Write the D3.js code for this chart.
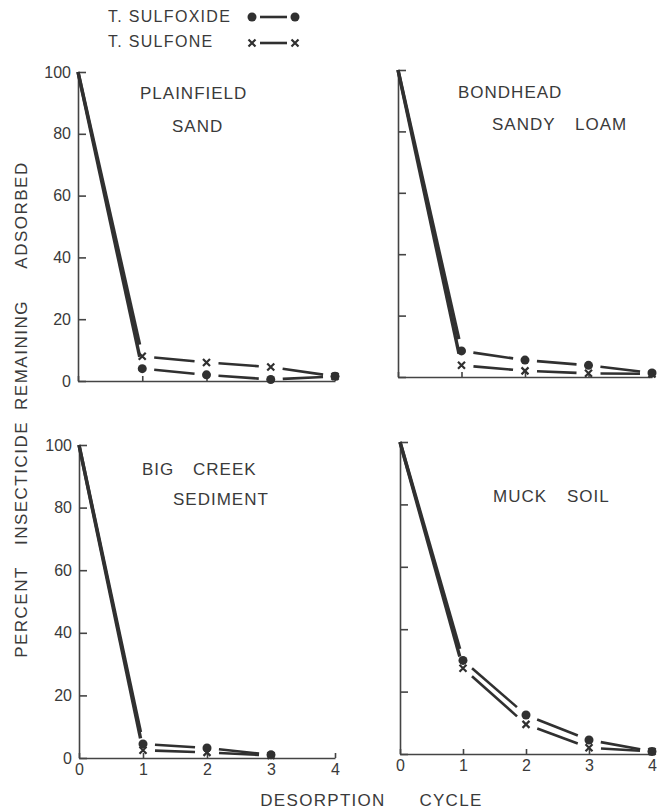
<!DOCTYPE html>
<html>
<head>
<meta charset="utf-8">
<script src="https://cdn.jsdelivr.net/npm/d3@7"></script>
<style>
  body { margin: 0; background: #fff; }
  svg text { font-family: "Liberation Sans", Arial, sans-serif; fill: #3a3a3a; }
</style>
</head>
<body>
<div id="chart"></div>
<script>
// desorption cycles (x values)
const cycles = [0, 1, 2, 3, 4];
const yTicks = [0, 20, 40, 60, 80, 100];

// percent insecticide remaining adsorbed
const plainfieldSulfoxide = [100, 4, 2, 0.5, 1.5];
const plainfieldSulfone   = [100, 8, 6, 4.5, 1.5];
const bondheadSulfoxide   = [100, 8.5, 5.5, 3.8, 1.3];
const bondheadSulfone     = [100, 3.8, 2, 1.2, 1];
const bigCreekSulfoxide   = [100, 4.5, 3.2, 1];
const bigCreekSulfone     = [100, 2.5, 1.8, 0.8];
const muckSulfoxide       = [100, 30, 12.5, 4.5, 0.8];
const muckSulfone         = [100, 27.5, 9.5, 2, 0.8];

const width = 657, height = 812;
const ink = "#303030";

const svg = d3.select("#chart").append("svg")
  .attr("width", width)
  .attr("height", height);

const panels = [
  { x0: 78,  x1: 335, yTop: 72,  yBot: 381, tickLabelsY: true,  tickLabelsX: false,
    sulfoxide: plainfieldSulfoxide, sulfone: plainfieldSulfone,
    title: [["PLAINFIELD", 140, 99], ["SAND", 172, 132]] },
  { x0: 398, x1: 652, yTop: 70,  yBot: 377, tickLabelsY: false, tickLabelsX: false,
    sulfoxide: bondheadSulfoxide, sulfone: bondheadSulfone,
    title: [["BONDHEAD", 458, 98], ["SANDY", 492, 130], ["LOAM", 575, 130]] },
  { x0: 79,  x1: 335, yTop: 445, yBot: 758, tickLabelsY: true,  tickLabelsX: true,
    sulfoxide: bigCreekSulfoxide, sulfone: bigCreekSulfone,
    title: [["BIG", 142, 475], ["CREEK", 193, 475], ["SEDIMENT", 173, 505]] },
  { x0: 400, x1: 652, yTop: 442, yBot: 754, tickLabelsY: false, tickLabelsX: true,
    sulfoxide: muckSulfoxide, sulfone: muckSulfone,
    title: [["MUCK", 493, 502], ["SOIL", 567, 502]] }
];

// draws a segmented line with breaks around each marker
function drawSeries(g, x, y, values) {
  const pts = values.map((v, i) => [x(cycles[i]), y(v)]);
  const line = d3.line();
  for (let i = 0; i < pts.length - 1; i++) {
    const [ax, ay] = pts[i], [bx, by] = pts[i + 1];
    const len = Math.hypot(bx - ax, by - ay);
    const ux = (bx - ax) / len, uy = (by - ay) / len;
    const g0 = i === 0 ? 0 : 12, g1 = 12;
    if (len <= g0 + g1) continue;
    g.append("path")
      .attr("d", line([[ax + ux * g0, ay + uy * g0], [bx - ux * g1, by - uy * g1]]))
      .attr("fill", "none")
      .attr("stroke", ink)
      .attr("stroke-width", i === 0 ? 3.4 : 2.6);
  }
  return pts;
}

function dot(g, cx, cy) {
  g.append("circle").attr("cx", cx).attr("cy", cy).attr("r", 4.5).attr("fill", ink);
}
function cross(g, cx, cy) {
  const s = 3.5;
  g.append("path")
    .attr("d", `M${cx - s},${cy - s}L${cx + s},${cy + s}M${cx - s},${cy + s}L${cx + s},${cy - s}`)
    .attr("stroke", ink).attr("stroke-width", 2.2).attr("fill", "none");
}

panels.forEach(p => {
  const x = d3.scaleLinear().domain([0, 4]).range([p.x0, p.x1]);
  const y = d3.scaleLinear().domain([0, 100]).range([p.yBot, p.yTop]);
  const g = svg.append("g");

  const yAxis = d3.axisLeft(y).tickValues(yTicks)
    .tickSizeInner(-8).tickSizeOuter(0).tickPadding(7);
  if (!p.tickLabelsY) yAxis.tickFormat("");
  const ya = g.append("g").attr("transform", `translate(${p.x0},0)`).call(yAxis);

  const xAxis = d3.axisBottom(x).tickValues(cycles)
    .tickSizeInner(-5).tickSizeOuter(0).tickPadding(6)
    .tickFormat(p.tickLabelsX ? d3.format("d") : "");
  const xa = g.append("g").attr("transform", `translate(0,${p.yBot})`).call(xAxis);

  [ya, xa].forEach(a => {
    a.selectAll("path.domain").attr("stroke", "#444").attr("stroke-width", 1.6);
    a.selectAll(".tick line").attr("stroke", "#444").attr("stroke-width", 1.6);
    a.selectAll(".tick text").attr("font-size", 16)
      .attr("font-family", "Liberation Sans, Arial, sans-serif").attr("fill", "#444");
  });

  p.title.forEach(([t, tx, ty]) => {
    g.append("text").attr("x", tx).attr("y", ty)
      .attr("font-size", 17).attr("letter-spacing", 1).text(t);
  });

  const pa = drawSeries(g, x, y, p.sulfoxide);
  const pb = drawSeries(g, x, y, p.sulfone);
  pa.slice(1).forEach(([cx, cy]) => dot(g, cx, cy));
  pb.slice(1).forEach(([cx, cy]) => cross(g, cx, cy));
});

// legend
const legendRows = [["T. SULFOXIDE", 22, 17, dot], ["T. SULFONE", 47, 43, cross]];
legendRows.forEach(([label, ty, my, mark]) => {
  svg.append("text").attr("x", 108).attr("y", ty)
    .attr("font-size", 16).attr("letter-spacing", 1.3).text(label);
  svg.append("line").attr("x1", 260).attr("x2", 287).attr("y1", my).attr("y2", my)
    .attr("stroke", ink).attr("stroke-width", 2.6);
  mark(svg, 252, my);
  mark(svg, 295, my);
});

// y axis title, one word at a time as in the original lettering
const yWords = [["PERCENT", 612], ["INSECTICIDE", 483], ["REMAINING", 355], ["ADSORBED", 215]];
yWords.forEach(([w, cy]) => {
  svg.append("text")
    .attr("transform", `translate(27,${cy}) rotate(-90)`)
    .attr("text-anchor", "middle")
    .attr("font-size", 17).attr("letter-spacing", 1.5).text(w);
});

// x axis title
const xWords = [["DESORPTION", 323], ["CYCLE", 451]];
xWords.forEach(([w, cx]) => {
  svg.append("text").attr("x", cx).attr("y", 806)
    .attr("text-anchor", "middle")
    .attr("font-size", 17).attr("letter-spacing", 1.3).text(w);
});
</script>
</body>
</html>
